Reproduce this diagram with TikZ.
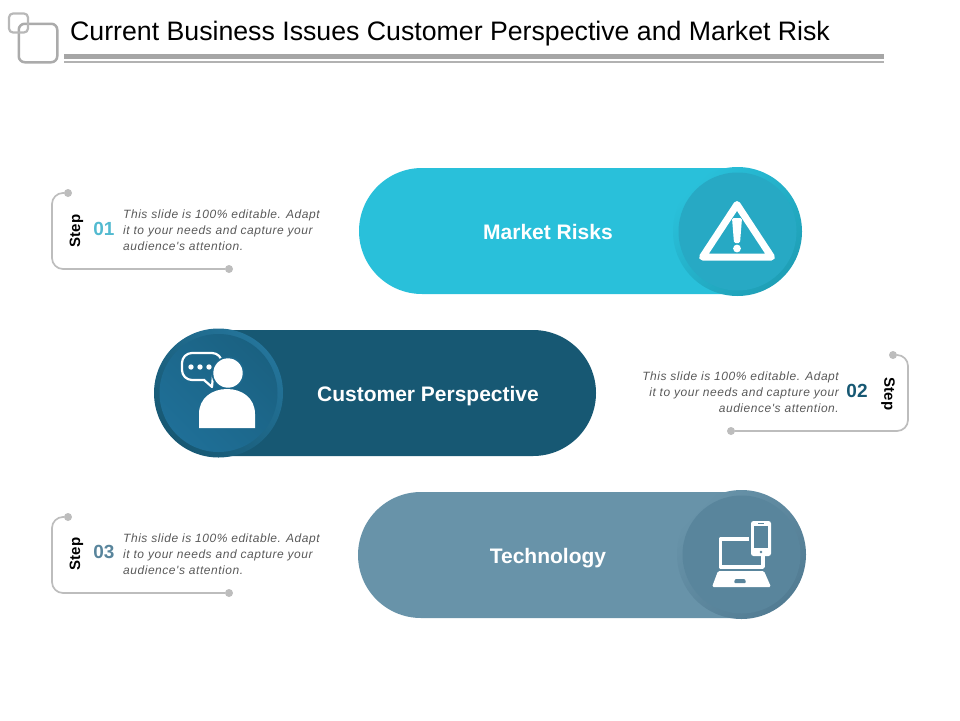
\documentclass[tikz,border=0pt]{standalone}
\usepackage{fontspec}
\setmainfont{Liberation Sans}
\newfontfamily\notefont[LetterSpace=4.5]{Liberation Sans}
\usetikzlibrary{shapes.misc}
\definecolor{cyanpill}{HTML}{29C0DA}
\definecolor{cyanring}{HTML}{1F9FB6}
\definecolor{cyandisc}{HTML}{27A9C4}
\definecolor{navypill}{HTML}{175873}
\definecolor{navyring}{HTML}{24749A}
\definecolor{navydisc}{HTML}{1F6F97}
\definecolor{slatepill}{HTML}{6893A9}
\definecolor{slatering}{HTML}{527C93}
\definecolor{slatedisc}{HTML}{59859C}
\definecolor{bracketgray}{HTML}{BDBDBD}
\definecolor{notegray}{HTML}{595959}
\tikzset{
    pill/.style ={
        shape=rounded rectangle,
        minimum width=378pt,
        minimum height=126pt,
        inner sep=0pt
    },
    pilltext/.style ={
        text=white,
        anchor=base,
        font=\fontsize{21}{25}\selectfont\bfseries
    },
    ring/.style ={
        shape=circle,
        minimum size=129pt,
        inner sep=0pt
    },
    disc/.style ={
        shape=circle,
        minimum size=118pt,
        inner sep=0pt
    },
    dot/.style ={
        shape=circle,
        fill=bracketgray,
        minimum size=8pt,
        inner sep=0pt
    },
    bracket/.style ={
        draw=bracketgray,
        line width=1.7pt,
        rounded corners=11pt
    },
    note/.style ={
        text=notegray,
        inner sep=0pt,
        font=\notefont\fontsize{12}{16}\selectfont\itshape
    },
    stepword/.style ={
        font=\fontsize{15}{18}\selectfont\bfseries
    },
    stepnum/.style ={
        font=\fontsize{19}{22}\selectfont\bfseries
    }
}

\begin{document}
\begin{tikzpicture}[x=1pt,y=-1pt]
    \useasboundingbox (0,0) rectangle (960,720);
    % header
    \node[draw=black!33,line width=2.5pt,rounded corners=6pt,minimum size=38.5pt,inner sep=0pt] (bigsquare) at(38,43) {};
    \node[draw=black!28,line width=2.2pt,rounded corners=4pt,minimum size=19pt,inner sep=0pt] (smallsquare) at(18.5,23) {};
    \node[anchor=base west,inner sep=0pt,font=\fontsize{26.7}{32}\selectfont] (title) at(70,40.5) {Current Business Issues Customer Perspective and Market Risk};
    \fill[black!35] (64,54) rectangle (884,59);
    \fill[black!30] (64,61) rectangle (884,62.5);

    % pills
    \node[pill,fill=cyanpill,rounded rectangle east arc=none] (market) at(548,231) {};
    \node[pill,fill=navypill,rounded rectangle west arc=none] (customer) at(407,393) {};
    \node[pill,fill=slatepill,rounded rectangle east arc=none] (technology) at(547,555) {};
    \node[ring,shade,left color=cyanpill,right color=cyanring,shading angle=45] (marketring) at(737.5,231.5) {};
    \node[disc,fill=cyandisc] (marketdisc) at(737.5,231.5) {};
    \node[ring,shade,left color=navypill,right color=navyring,shading angle=135] (customerring) at(218.5,393) {};
    \node[disc,shade,left color=navydisc,right color=navypill!60!navydisc,shading angle=135] (customerdisc) at(218.5,393) {};
    \node[ring,shade,left color=slatepill,right color=slatering,shading angle=45] (technologyring) at(741.5,554.5) {};
    \node[disc,fill=slatedisc] (technologydisc) at(741.5,554.5) {};
    \node[pilltext] (marketlabel) at(548,239) {Market Risks};
    \node[pilltext] (customerlabel) at(428,401) {Customer Perspective};
    \node[pilltext] (technologylabel) at(548,563) {Technology};

    % warning icon
    \draw[white,line width=7pt,line join=round] (737,204.5) -- (771.5,257) -- (702.5,257) -- cycle;
    \fill[white,rounded corners=1.5pt] (732,218) -- (742,218) -- (740,243) -- (734,243) -- cycle;
    \fill[white] (737,248.5) circle (3.9);

    % person icon
    \draw[white,line width=2.2pt,line join=round,rounded corners=10pt] (222,372) -- (222,353) -- (182,353) -- (182,380) -- (205,380);
    \draw[white,line width=2.2pt,line join=round] (204,380) -- (212,387) -- (213,375);
    \fill[white] (191,367) circle (2.7);
    \fill[white] (200,367) circle (2.7);
    \fill[white] (209,367) circle (2.7);
    \fill[navydisc!75!navypill] (228,373) circle (16.5);
    \fill[white] (228,373) circle (14.7);
    \fill[white] (199,428) -- (199,414) .. controls (199,398) and (212,389) .. (227,389) .. controls (242,389) and (255,398) .. (255,414) -- (255,428) -- cycle;

    % devices icon
    \draw[white,line width=3.6pt,line join=round] (749,539) -- (720.5,539) -- (720.5,567) -- (763,567) -- (763,556);
    \fill[white,rounded corners=1.5pt] (718,571) -- (764,571) -- (771,587) -- (712,587) -- cycle;
    \fill[slatedisc,rounded corners=1pt] (735,579) -- (745,579) -- (746,583) -- (734,583) -- cycle;
    \fill[white,rounded corners=2.5pt] (751,521) rectangle (771,556);
    \fill[slatedisc] (754,526) rectangle (768,548);
    \fill[slatedisc] (761,552) circle (1.3);
    \draw[slatedisc,line width=0.6pt] (758,523.5) -- (764,523.5);

    % step 01
    \node[dot] (onetop) at(68,193) {};
    \node[dot] (onebottom) at(229,269) {};
    \coordinate (onecorner) at(52,269);
    \draw[bracket] (onetop) -| (onecorner) -- (onebottom);
    \node[stepword,rotate=90] (onestep) at(76.5,231) {Step};
    \node[stepnum,text=cyandisc!80!white] (onenum) at(104,229) {01};
    \node[note,anchor=base west,align=left] (onenote) at(123,250) {This slide is 100\% editable. Adapt\\it to your needs and capture your\\audience's attention.};

    % step 02
    \node[dot] (twotop) at(893,355) {};
    \node[dot] (twobottom) at(731,431) {};
    \coordinate (twocorner) at(908,431);
    \draw[bracket] (twotop) -| (twocorner) -- (twobottom);
    \node[stepword,rotate=-90] (twostep) at(888,394) {Step};
    \node[stepnum,text=navypill] (twonum) at(857,391) {02};
    \node[note,anchor=base east,align=right] (twonote) at(839,412) {This slide is 100\% editable. Adapt\\it to your needs and capture your\\audience's attention.};

    % step 03
    \node[dot] (threetop) at(68,517) {};
    \node[dot] (threebottom) at(229,593) {};
    \coordinate (threecorner) at(52,593);
    \draw[bracket] (threetop) -| (threecorner) -- (threebottom);
    \node[stepword,rotate=90] (threestep) at(76.5,554) {Step};
    \node[stepnum,text=slatedisc] (threenum) at(104,552) {03};
    \node[note,anchor=base west,align=left] (threenote) at(123,574) {This slide is 100\% editable. Adapt\\it to your needs and capture your\\audience's attention.};
\end{tikzpicture}
\end{document}
